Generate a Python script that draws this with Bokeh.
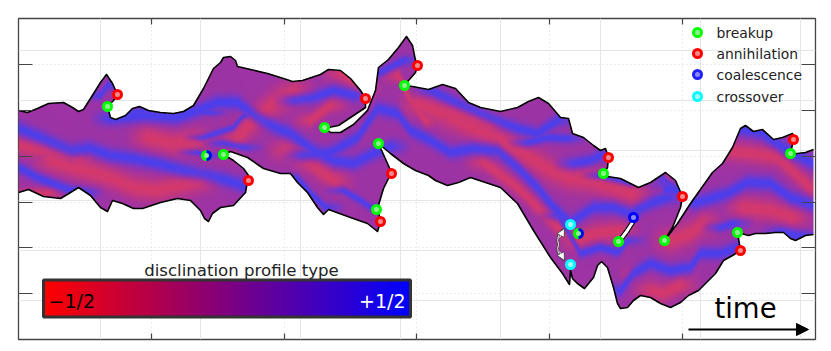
import numpy as np
from bokeh.plotting import figure
from bokeh.embed import file_html
from bokeh.resources import INLINE
from bokeh.core.properties import value
from bokeh.models import Range1d, FixedTicker, LinearAxis, Arrow, NormalHead, Grid

# ribbon outline (time, position)
OUT_X = [18,27,37,48,63,72,78,83,90,100,106,112,117,113,107,110,115,125,132,139,148,160,173,183,193,203,213,220,223,230,235,237,250,267,283,292,302,320,328,340,350,360,365,365,353,338,328,324,330,340,353,367,375,378,388,398,406,412,415,417,415,408,404,412,428,442,455,468,480,500,517,528,538,548,560,568,572,583,593,600,605,608,607,603,607,620,638,650,665,675,682,680,672,664,677,690,712,722,732,740,745,753,762,773,782,792,793,790,797,805,813,
         813,805,795,790,783,775,765,755,748,737,740,732,723,715,698,688,680,670,660,650,640,633,627,620,617,613,607,601,597,593,584,577,572,570,569,562,550,533,517,500,470,458,447,435,428,415,403,390,378,391,383,377,380,377,367,350,328,323,317,307,297,290,280,263,247,230,223,233,243,248,245,233,220,212,208,204,200,190,177,160,142,133,122,112,107,100,90,78,70,60,43,28,18]
OUT_Y = [110,112,108,103,102,107,111,109,98,82,74,83,94,100,106,117,119,115,108,106,110,112,113,111,105,88,68,62,57,56,60,66,69,73,78,81,80,74,69,70,78,90,98,107,115,125,127,127,132,132,124,110,90,67,59,47,36,45,60,65,72,80,85,86,89,84,88,102,107,111,107,101,97,103,117,118,133,137,145,150,148,157,167,173,176,178,187,182,172,180,196,207,227,240,223,203,172,163,147,128,125,131,129,139,137,133,139,153,153,152,149,
         234,235,240,238,232,232,233,233,235,232,250,255,260,273,290,295,302,307,303,297,295,300,307,308,303,287,267,261,265,277,288,283,278,270,284,273,257,230,203,187,177,182,185,180,175,170,163,153,143,172,188,208,221,231,223,217,209,214,207,192,182,173,173,168,157,151,154,160,168,175,192,205,207,213,221,218,210,200,198,202,208,208,203,200,211,207,195,187,192,198,196,189,192]
SPLIT = 111  # upper / lower run of the outline
HOLE_X = [631,625,619,622,628,635,631]
HOLE_Y = [220,229,237,240,232,221,220]

# stripe centre lines
BLUE = [
 ([18,40,70,90,110,133,157,183,210,227,245],[128,137,150,148,155,158,163,170,175,180,186],4.5),
 ([18,37,57,70,84],[167,177,185,190,192],3.5),
 ([110,143,177,197,217,237,257,277,290,313,333,353,373,390],[118,115,117,110,102,102,117,128,133,150,160,163,153,146],4.5),
 ([300,330,357,377,397,410,430,450,473,497,517,537,553,570,593,613,630,650,667],[155,152,137,108,113,130,140,152,148,150,167,187,207,222,207,207,213,203,197],4.2),
 ([430,467,490,517,537,557],[90,107,117,128,133,120],4),
 ([527,547,567],[142,137,138],3),
 ([573,590,600],[163,160,155],4),
 ([293,313,333,353],[100,97,90,95],3.8),
 ([343,360,370],[190,200,207],2.5),
 ([297,312,325],[178,195,207],3),
 ([380,403],[72,60],3),
 ([203,233,243],[137,127,115],2.2),
 ([197,206],[152,155],2),
 ([223,243],[143,147],2.5),
 ([100,107],[95,85],3),
 ([112,130,160,210],[117,112,108,112],2.2),
 ([558,580,600,618,627],[215,253,247,252,240],3),
 ([620,633,650,670,690,700,720,737],[290,273,263,270,267,253,253,247],4),
 ([663,650,680,693,727,747,770,790,813],[180,187,190,203,193,182,183,197,205],4.5),
 ([720,733],[227,223],3),
 ([737,760,787,813],[128,132,150,163],4.5),
 ([600,630,660,675],[175,182,175,190],2.5),
 ([780,813],[232,238],4),
]
RED = [
 ([50,77,110,133,157,200],[160,168,177,187,190,180],5),
 ([147,173,195],[137,143,140],5),
 ([235,250,277,295],[140,123,100,92],6),
 ([285,310,323,335],[150,163,173,180],4.5),
 ([417,440,470,490],[103,112,117,125],5.5),
 ([340,353,362],[73,80,88],3.5),
 ([450,500,550,567,590,633],[117,140,170,177,180,193],5.5),
 ([483,517,543,563],[162,187,213,233],3.5),
 ([575,593,620],[240,233,230],4),
 ([637,627,620],[250,263,275],4),
 ([650,663,680],[290,293,285],4),
 ([670,690,703],[240,233,223],5),
 ([720,750,777,810],[150,153,157,187],4),
 ([743,770,793],[207,210,217],4.5),
 ([18,45,80],[145,150,160],4),
 ([20,50],[195,192],2.5),
 ([640,655],[175,178],2.5),
 ([310,330],[120,105],3),
 ([398,410,425],[75,100,120],3),
]

BREAKUP = ([107,223,324,378,376,404,603,618,664,737,790],[106,154,127,143,209,85,173,241,240,232,153])
ANNIHIL = ([117,248,365,391,380,417,608,682,740,793],[94,180,98,173,221,65,157,196,250,139])
COALESCE = ([633],[217])
CROSS = ([570,570],[224,264])
HALF = ([206,578],[155,233])

LEG_LABELS = ["breakup","annihilation","coalescence","crossover"]
LEG_COLORS = ["#00ff00","#ff0000","#2020ff","#00ffff"]
LEG_INNER = ["#8ff08f","#f08c8c","#8a8af5","#a8f8f8"]
LEG_Y = [32,53,74,96]
LEG_MX = 697
LEG_TX = 716

XTICKS = [151,284,416,549,682]
YTICKS = [64,110,156,202,247,293]

XL, XR, YT, YB = 18, 815, 18, 339
W, H = XR - XL, YB - YT

# ----- field -----
xx = np.arange(W) + XL + 0.5
yy = np.arange(H) + YT + 0.5
def layer(stripes, widen):
    f = np.zeros((H, W))
    for xs, ys, s in stripes:
        c = np.interp(xx, xs, ys)
        fade = np.clip((xx - xs[0]) / 22 + 1, 0, 1) * np.clip((xs[-1] - xx) / 22 + 1, 0, 1)
        sd = s * widen
        g = np.exp(-((yy[:, None] - c[None, :]) ** 2) / (2 * sd * sd)) * fade[None, :]
        f = np.maximum(f, g)
    return f
b = layer(BLUE, 1.15)
r = layer(RED, 1.7)
v = np.clip(0.92 * b - 0.72 * r * (1 - 0.7 * b), -1, 1)
base = np.array([160, 52, 168.0])
blue = np.array([70, 65, 248.0])
red = np.array([238, 60, 88.0])
rgb = np.where(v[..., None] > 0, base + v[..., None] * (blue - base), base + (-v[..., None]) * (red - base))
rgb = rgb * (0.965 + 0.035 * (np.arange(W) % 2))[None, :, None]

def raster(px, py):
    m = np.zeros((H, W), bool)
    n = len(px)
    for i in range(n):
        x0, y0, x1, y1 = px[i], py[i], px[(i + 1) % n], py[(i + 1) % n]
        if y0 == y1:
            continue
        rows = np.where((yy >= min(y0, y1)) & (yy < max(y0, y1)))[0]
        for k in rows:
            xc = x0 + (yy[k] - y0) * (x1 - x0) / (y1 - y0)
            m[k, xx < xc] ^= True
    return m
mask = raster(OUT_X, OUT_Y) & ~raster(HOLE_X, HOLE_Y)

img = np.zeros((H, W), dtype=np.uint32)
v8 = img.view(np.uint8).reshape((H, W, 4))
v8[..., :3] = np.clip(rgb, 0, 255).astype(np.uint8)
v8[..., 3] = (mask * 255).astype(np.uint8)

# ----- figure -----
p = figure(width=823, height=343, output_backend="svg", toolbar_location=None,
           x_range=Range1d(XL, XR), y_range=Range1d(YB, YT),
           x_axis_location=None, y_axis_location=None,
           min_border_left=18, min_border_right=8, min_border_top=18, min_border_bottom=4,
           background_fill_color="white", border_fill_color="white",
           outline_line_color="#444444", outline_line_width=1.3)
p.frame_width = W
p.frame_height = H

def ax(loc, ticks, tin):
    a = LinearAxis(ticker=FixedTicker(ticks=ticks), major_tick_in=tin, major_tick_out=0,
                   minor_tick_in=0, minor_tick_out=0,
                   major_label_overrides={t: "" for t in ticks},
                   major_label_standoff=0, axis_line_color=None,
                   major_tick_line_color="#444444", major_tick_line_width=1.2)
    p.add_layout(a, loc)
    return a
ax("below", XTICKS, 6); ax("above", XTICKS, 6)
ax("left", YTICKS, 14); ax("right", YTICKS, 14)

p.add_layout(Grid(dimension=0, ticker=FixedTicker(ticks=XTICKS), grid_line_color="#d8d8d8", grid_line_dash="1 3", grid_line_width=1))
p.add_layout(Grid(dimension=1, ticker=FixedTicker(ticks=YTICKS), grid_line_color="#d8d8d8", grid_line_dash="1 3", grid_line_width=1))

p.image_rgba(image=[img], x=XL, y=YT, dw=W, dh=H)

p.line(OUT_X[:SPLIT], OUT_Y[:SPLIT], line_color="black", line_width=1.6, line_join="round")
p.line(OUT_X[SPLIT:], OUT_Y[SPLIT:], line_color="black", line_width=1.6, line_join="round")
p.line(HOLE_X, HOLE_Y, line_color="black", line_width=1.2, line_join="round")

# crossover arrows
p.quadratic(x0=[563,563], y0=[229,259], x1=[558,558], y1=[244,244], cx=[555,555], cy=[236,252],
            line_color="#333333", line_width=2.4)
p.quadratic(x0=[563,563], y0=[229,259], x1=[558,558], y1=[244,244], cx=[555,555], cy=[236,252],
            line_color="white", line_width=1.0)
for xs, ys, xe, ye in [(559,237,564,228),(559,251,564,260)]:
    p.add_layout(Arrow(end=NormalHead(size=8, fill_color="white", line_color="#333333", line_width=0.8),
                       x_start=xs, y_start=ys, x_end=xe, y_end=ye, line_color="white", line_width=1))

def mk(xy, c, inner):
    p.scatter(xy[0], xy[1], marker="circle", size=8, line_color=c, fill_color=inner, line_width=3)
mk(BREAKUP, LEG_COLORS[0], LEG_INNER[0])
mk(ANNIHIL, LEG_COLORS[1], LEG_INNER[1])
mk(COALESCE, "#0000ff", LEG_INNER[2])
mk(CROSS, LEG_COLORS[3], LEG_INNER[3])
p.scatter(HALF[0], HALF[1], marker="circle", size=8, line_color="#00ff00", fill_color="#8ff08f", line_width=3)
p.annular_wedge(x=HALF[0], y=HALF[1], inner_radius=2.5, outer_radius=5.5, start_angle=-np.pi/2, end_angle=np.pi/2,
                fill_color="#0000ff", line_color=None)

# legend
p.scatter([LEG_MX]*4, LEG_Y, marker="circle", size=8, line_color=LEG_COLORS, fill_color=LEG_INNER, line_width=3)
p.text([LEG_TX]*4, LEG_Y, text=LEG_LABELS, text_font=value("DejaVu Sans"), text_font_size="13.9px",
       text_baseline="middle", text_color="#222222")

# colour bar
CB_L, CB_R, CB_T, CB_B = 43, 410, 279.5, 316.5
grad = np.zeros((1, 367), dtype=np.uint32)
g8 = grad.view(np.uint8).reshape((1, 367, 4))
g8[..., 0] = np.linspace(255, 0, 367).astype(np.uint8)
g8[..., 2] = np.linspace(0, 255, 367).astype(np.uint8)
g8[..., 3] = 255
p.image_rgba(image=[grad], x=CB_L, y=CB_T, dw=CB_R-CB_L, dh=CB_B-CB_T)
p.quad(left=[CB_L], right=[CB_R], top=[CB_T], bottom=[CB_B], fill_color=None, line_color="#333333", line_width=3)
p.text([241], [270], text=["disclination profile type"], text_font=value("DejaVu Sans"), text_font_size="16.6px",
       text_align="center", text_baseline="middle", text_color="#222222")
p.text([48], [300], text=["\u22121/2"], text_font=value("DejaVu Sans"), text_font_size="19px",
       text_baseline="middle", text_color="black")
p.text([405], [300], text=["+1/2"], text_font=value("DejaVu Sans"), text_font_size="19px",
       text_align="right", text_baseline="middle", text_color="white")

# time arrow
p.text([745], [307], text=["time"], text_font=value("DejaVu Sans"), text_font_size="27.5px",
       text_align="center", text_baseline="middle", text_color="black")
p.add_layout(Arrow(end=NormalHead(size=12, fill_color="black", line_color="black"),
                   x_start=688, y_start=329, x_end=808, y_end=329, line_color="black", line_width=2))

open("out.html", "w").write(file_html(p, INLINE))
